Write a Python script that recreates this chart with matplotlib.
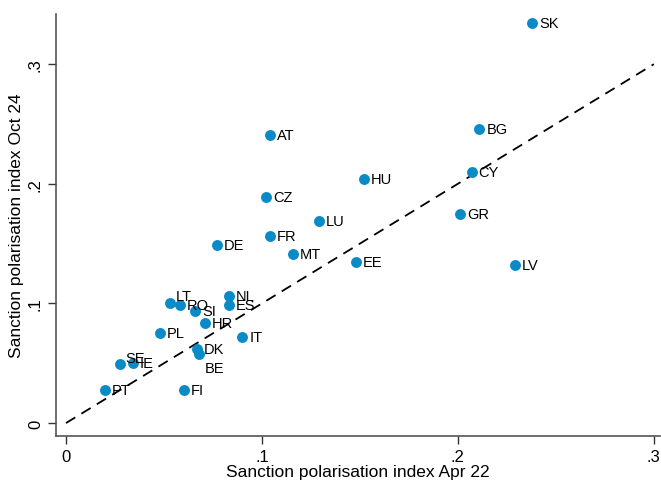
import matplotlib
matplotlib.use("Agg")
import matplotlib.pyplot as plt

plt.rcParams['font.family'] = ['Liberation Sans', 'DejaVu Sans']

countries = ["SK", "BG", "CY", "GR", "LV", "HU", "AT", "CZ", "LU", "FR", "MT", "EE",
             "DE", "NL", "ES", "LT", "RO", "SI", "HR", "PL", "IT", "DK", "BE", "SE",
             "IE", "PT", "FI"]
apr22 = [0.238, 0.211, 0.207, 0.201, 0.229, 0.152, 0.104, 0.102, 0.129, 0.104, 0.116, 0.148,
         0.077, 0.083, 0.083, 0.053, 0.058, 0.066, 0.071, 0.048, 0.090, 0.067, 0.068, 0.0275,
         0.034, 0.020, 0.060]
oct24 = [0.334, 0.246, 0.210, 0.175, 0.132, 0.204, 0.241, 0.189, 0.169, 0.156, 0.141, 0.135,
         0.149, 0.106, 0.099, 0.100, 0.099, 0.094, 0.084, 0.075, 0.072, 0.062, 0.058, 0.049,
         0.050, 0.028, 0.028]
# label placement (clock position, Stata style)
positions = {"LT": "ne", "SE": "ne", "BE": "se"}

ticks = [0, 0.1, 0.2, 0.3]
tick_labels = ["0", ".1", ".2", ".3"]

fig = plt.figure(figsize=(6.61, 4.81), dpi=100)
ax = fig.add_axes([0.085, 0.091, 0.913, 0.878])

ax.plot([0, 0.3], [0, 0.3], linestyle=(0, (6, 4)), color='black', linewidth=1.3, zorder=1)
ax.scatter(apr22, oct24, s=62, color='#0a8bc8', zorder=3, linewidths=0)

fs = 10.5
for c, x, y in zip(countries, apr22, oct24):
    pos = positions.get(c, "e")
    if pos == "e":
        off = (5, 0)
    elif pos == "ne":
        off = (4, 5)
    else:
        off = (4, -10)
    ax.annotate(c, (x, y), xytext=off, textcoords='offset points',
                ha='left', va='center', fontsize=fs, zorder=4)

ax.set_xlim(-0.005, 0.303)
ax.set_ylim(-0.011, 0.342)
ax.set_xticks(ticks)
ax.set_xticklabels(tick_labels)
ax.set_yticks(ticks)
ax.set_yticklabels(tick_labels, rotation=90, va='center')
ax.tick_params(direction='out', length=6, width=1, colors='#333333', labelsize=12,
               labelcolor='black')
ax.spines['top'].set_visible(False)
ax.spines['right'].set_visible(False)
for s in ['left', 'bottom']:
    ax.spines[s].set_color('#555555')
    ax.spines[s].set_linewidth(1.2)

ax.set_xlabel("Sanction polarisation index Apr 22", fontsize=12.5, labelpad=0)
ax.set_ylabel("Sanction polarisation index Oct 24", fontsize=12.5, labelpad=3)

fig.savefig("out.png", dpi=100)
